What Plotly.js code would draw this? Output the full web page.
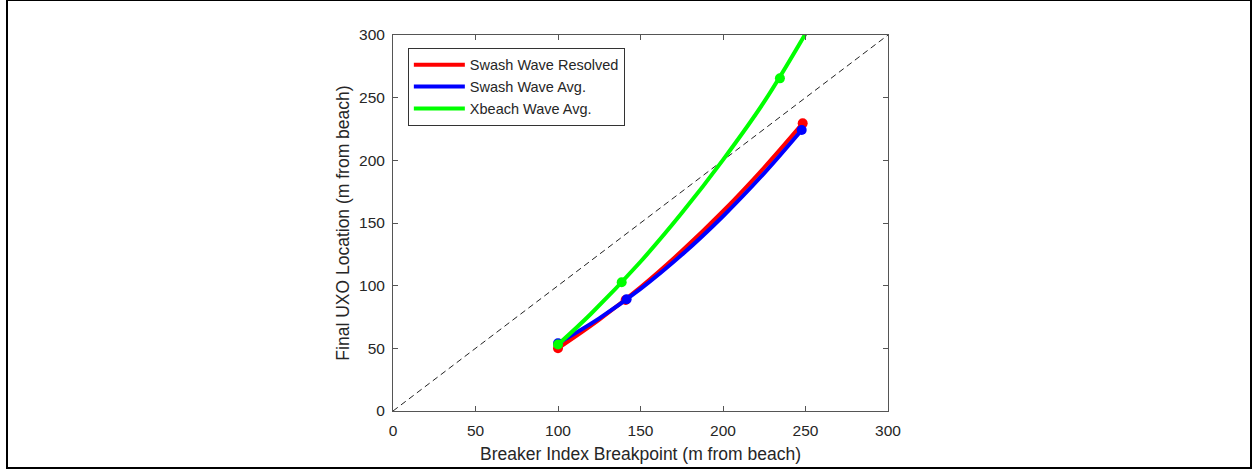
<!DOCTYPE html>
<html>
<head>
<meta charset="utf-8">
<script src="https://cdn.plot.ly/plotly-3.0.1.min.js"></script>
<style>
  html, body { margin: 0; padding: 0; background: #ffffff; }
  #chart { position: absolute; left: 0; top: 0; width: 1252px; height: 471px; }
  #frame { position: absolute; left: 6px; top: 0; width: 1246px; height: 469px;
           box-sizing: border-box; border-left: 2px solid #000; border-top: 1px solid #000;
           border-bottom: 2px solid #000; border-right: 2px solid #000; pointer-events: none; }
</style>
</head>
<body>
<div id="chart"></div>
<div id="frame"></div>
<script>
// ---- Data ----
const seriesNames = ["Swash Wave Resolved", "Swash Wave Avg.", "Xbeach Wave Avg."];
const seriesColors = ["#ff0000", "#0000ff", "#00ff00"];

// Measured points (markers)
const redPtsX   = [100, 141, 248.3];
const redPtsY   = [50, 88.5, 229.5];
const bluePtsX  = [100, 141.6, 247.7];
const bluePtsY  = [54, 89.1, 224.2];
const greenPtsX = [100, 138.6, 234.5];
const greenPtsY = [53, 102.7, 265.4];

// Fitted curves
const redCurveX   = [100, 125, 150, 175, 200, 225, 248.3];
const redCurveY   = [50, 72.9, 98.7, 127.6, 159.4, 194.3, 229.5];
const blueCurveX  = [100, 125, 150, 175, 200, 225, 247.7];
const blueCurveY  = [54, 73.9, 97.4, 124.6, 155.4, 189.8, 224.2];
const greenCurveX = [100, 120, 150, 175, 200, 225, 250];
const greenCurveY = [53, 77.6, 119.1, 157.9, 200.4, 246.8, 301];

// 1:1 reference line
const refX = [0, 300];
const refY = [0, 300];

const tickVals = [0, 50, 100, 150, 200, 250, 300];
const xTitle = "Breaker Index Breakpoint (m from beach)";
const yTitle = "Final UXO Location (m from beach)";

const curves = [[redCurveX, redCurveY], [blueCurveX, blueCurveY], [greenCurveX, greenCurveY]];
const pts = [[redPtsX, redPtsY], [bluePtsX, bluePtsY], [greenPtsX, greenPtsY]];

const traces = [{
  x: refX, y: refY, type: "scatter", mode: "lines",
  line: { color: "#222222", width: 1, dash: "6px,4px" },
  showlegend: false, hoverinfo: "skip"
}];
for (let i = 0; i < 3; i++) {
  traces.push({
    x: curves[i][0], y: curves[i][1], type: "scatter", mode: "lines",
    name: seriesNames[i],
    line: { color: seriesColors[i], width: 4, shape: "spline", smoothing: 1 }
  });
  traces.push({
    x: pts[i][0], y: pts[i][1], type: "scatter", mode: "markers",
    name: seriesNames[i], showlegend: false,
    marker: { color: seriesColors[i], size: 10 }
  });
}

const fontFam = "Liberation Sans, Arial, Helvetica, sans-serif";
const axisCommon = {
  range: [0, 300], tickvals: tickVals, ticktext: tickVals.map(String),
  showgrid: false, zeroline: false,
  showline: true, linecolor: "#555555", linewidth: 1, mirror: "ticks",
  ticks: "inside", ticklen: 5, tickcolor: "#555555", tickwidth: 1,
  tickfont: { family: fontFam, size: 15.5, color: "#262626" },
  fixedrange: true
};

const layout = {
  width: 1252, height: 471,
  margin: { l: 393, r: 364, t: 35, b: 60, pad: 0 },
  paper_bgcolor: "#ffffff", plot_bgcolor: "#ffffff",
  font: { family: fontFam, color: "#262626" },
  xaxis: Object.assign({}, axisCommon, {
    ticklabelstandoff: 5,
    title: { text: xTitle, font: { family: fontFam, size: 17.5, color: "#262626" }, standoff: 10 }
  }),
  yaxis: Object.assign({}, axisCommon, {
    ticklabelstandoff: 4,
    title: { text: yTitle, font: { family: fontFam, size: 17.5, color: "#262626" }, standoff: 4 }
  }),
  showlegend: true,
  legend: {
    x: 0.03, y: 0.966, xanchor: "left", yanchor: "top",
    bgcolor: "#ffffff", bordercolor: "#333333", borderwidth: 1,
    font: { family: fontFam, size: 14.5, color: "#262626" },
    itemwidth: 51, tracegroupgap: 0
  }
};

Plotly.newPlot("chart", traces, layout, { displayModeBar: false, staticPlot: true });
</script>
</body>
</html>
